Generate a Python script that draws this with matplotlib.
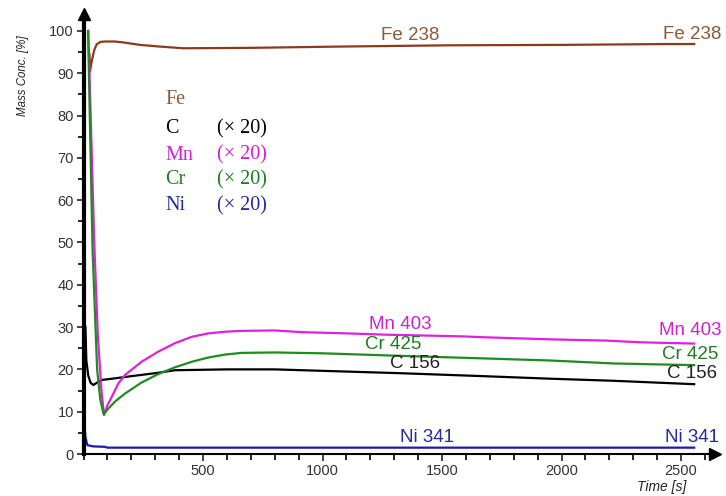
import matplotlib
matplotlib.use("Agg")
import matplotlib.pyplot as plt
from matplotlib.ticker import MultipleLocator

# ---- data (time in s, mass conc. in %) ----
fe_t = [25, 27, 35, 45, 55, 70, 90, 130, 165, 236, 320, 417, 700, 1070, 1530, 2000, 2440, 2555]
fe_v = [94.5, 90.4, 93.0, 95.5, 96.8, 97.4, 97.5, 97.5, 97.3, 96.7, 96.3, 95.9, 96.0, 96.3, 96.6, 96.7, 96.9, 96.9]

c_t = [8, 12, 20, 30, 41, 60, 76, 120, 200, 300, 383, 600, 800, 975, 1325, 1672, 1952, 2220, 2555]
c_v = [30, 22, 18.5, 16.8, 16.3, 17.0, 17.5, 17.8, 18.4, 19.1, 19.8, 20.0, 20.0, 19.7, 19.1, 18.4, 17.8, 17.3, 16.5]

mn_t = [20, 45, 60, 75, 86, 100, 118, 146, 174, 243, 313, 383, 453, 522, 592, 662, 800, 913,
        1107, 1268, 1588, 1672, 1952, 2190, 2330, 2555]
mn_v = [100, 50, 28, 15, 9.2, 11.5, 13.5, 16.7, 18.7, 21.8, 24.2, 26.2, 27.7, 28.5, 28.9, 29.1,
        29.2, 28.8, 28.5, 28.2, 27.8, 27.6, 27.1, 26.8, 26.4, 26.1]

cr_t = [19, 38, 57, 70, 84, 105, 132, 174, 243, 313, 383, 453, 522, 592, 662, 800, 1000,
        1325, 1672, 1952, 2220, 2555]
cr_v = [100, 48, 20, 13, 9.4, 10.8, 12.4, 14.3, 16.9, 18.9, 20.5, 21.8, 22.8, 23.5, 23.9, 24.0, 23.8,
        23.2, 22.6, 22.1, 21.4, 21.0]

ni_t = [2, 8, 16, 40, 90, 100, 500, 1500, 2555]
ni_v = [9.0, 4.0, 2.1, 1.8, 1.7, 1.5, 1.5, 1.5, 1.5]

legend_names = ["Fe", "C", "Mn", "Cr", "Ni"]
legend_factor = ["", "(\u00d7 20)", "(\u00d7 20)", "(\u00d7 20)", "(\u00d7 20)"]

line_colors = {"Fe": "#8B3A1A", "C": "#000000", "Mn": "#E020E0", "Cr": "#1E8C1E", "Ni": "#1A1AB0"}
text_colors = {"Fe": "#8B5A3A", "C": "#000000", "Mn": "#D020D0", "Cr": "#1E7E1E", "Ni": "#2828A0"}

W, H = 726, 496
fig = plt.figure(figsize=(W / 100, H / 100), dpi=100)
x0, x1 = 83.5, 714.5
y0, y1 = 454.0, 14.0
ax = fig.add_axes([x0 / W, (H - y0) / H, (x1 - x0) / W, (y0 - y1) / H])
ax.set_xlim(0, 2640)
ax.set_ylim(0, 104)

ax.plot(fe_t, fe_v, color=line_colors["Fe"], lw=1.6)
ax.plot(c_t, c_v, color=line_colors["C"], lw=1.6)
ax.plot(mn_t, mn_v, color=line_colors["Mn"], lw=1.6)
ax.plot(cr_t, cr_v, color=line_colors["Cr"], lw=1.6)
ax.plot(ni_t, ni_v, color=line_colors["Ni"], lw=1.6)

for s in ("top", "right"):
    ax.spines[s].set_visible(False)
ax.spines["left"].set_linewidth(3)
ax.spines["bottom"].set_linewidth(1.5)
ax.plot(1, 0, ">k", ms=9, transform=ax.transAxes, clip_on=False)
ax.plot(0, 1, "^k", ms=9, transform=ax.transAxes, clip_on=False)

ax.xaxis.set_major_locator(MultipleLocator(500))
ax.xaxis.set_minor_locator(MultipleLocator(100))
ax.yaxis.set_major_locator(MultipleLocator(10))
ax.yaxis.set_minor_locator(MultipleLocator(5))
ax.set_xticks([500, 1000, 1500, 2000, 2500])
ax.set_yticks(list(range(0, 101, 10)))
ax.tick_params(which="major", length=5, width=1.2, labelsize=10.5, colors="#222222", pad=2)
ax.tick_params(which="minor", length=4, width=1.2)
for lab in ax.get_xticklabels() + ax.get_yticklabels():
    lab.set_family("Liberation Sans")
    lab.set_color("#333333")

fig.text(23 / W, 1 - 76 / H, "Mass Conc. [%]", rotation=90, ha="center", va="center",
         fontsize=8.3, style="italic", family="Liberation Sans", color="#222222")
fig.text(662 / W, 1 - 487 / H, "Time [s]", ha="center", va="center",
         fontsize=10, style="italic", family="Liberation Sans", color="#222222")

# inline labels
lab_kw = dict(fontsize=13.5, family="Liberation Sans", ha="center", va="center")
ax.text(1366, 99.0, "Fe 238", color=text_colors["Fe"], **lab_kw)
ax.text(2546, 99.2, "Fe 238", color=text_colors["Fe"], **lab_kw)
ax.text(1326, 30.5, "Mn 403", color=text_colors["Mn"], **lab_kw)
ax.text(2540, 29.3, "Mn 403", color=text_colors["Mn"], **lab_kw)
ax.text(1295, 25.8, "Cr 425", color=text_colors["Cr"], **lab_kw)
ax.text(2538, 23.6, "Cr 425", color=text_colors["Cr"], **lab_kw)
ax.text(1387, 21.3, "C 156", color="#222222", **lab_kw)
ax.text(2548, 19.0, "C 156", color="#222222", **lab_kw)
ax.text(1439, 3.9, "Ni 341", color=text_colors["Ni"], **lab_kw)
ax.text(2544, 3.8, "Ni 341", color=text_colors["Ni"], **lab_kw)

# legend block (serif)
ys = [100, 129, 155, 180, 206]
for name, fac, yy in zip(legend_names, legend_factor, ys):
    fig.text(165 / W, 1 - yy / H, name, color=text_colors[name], fontsize=14.5,
             family="Liberation Serif", ha="left", va="center")
    if fac:
        fig.text(217 / W, 1 - yy / H, fac, color=text_colors[name], fontsize=14.5,
                 family="Liberation Serif", ha="left", va="center")

fig.savefig("out.png", dpi=100)
